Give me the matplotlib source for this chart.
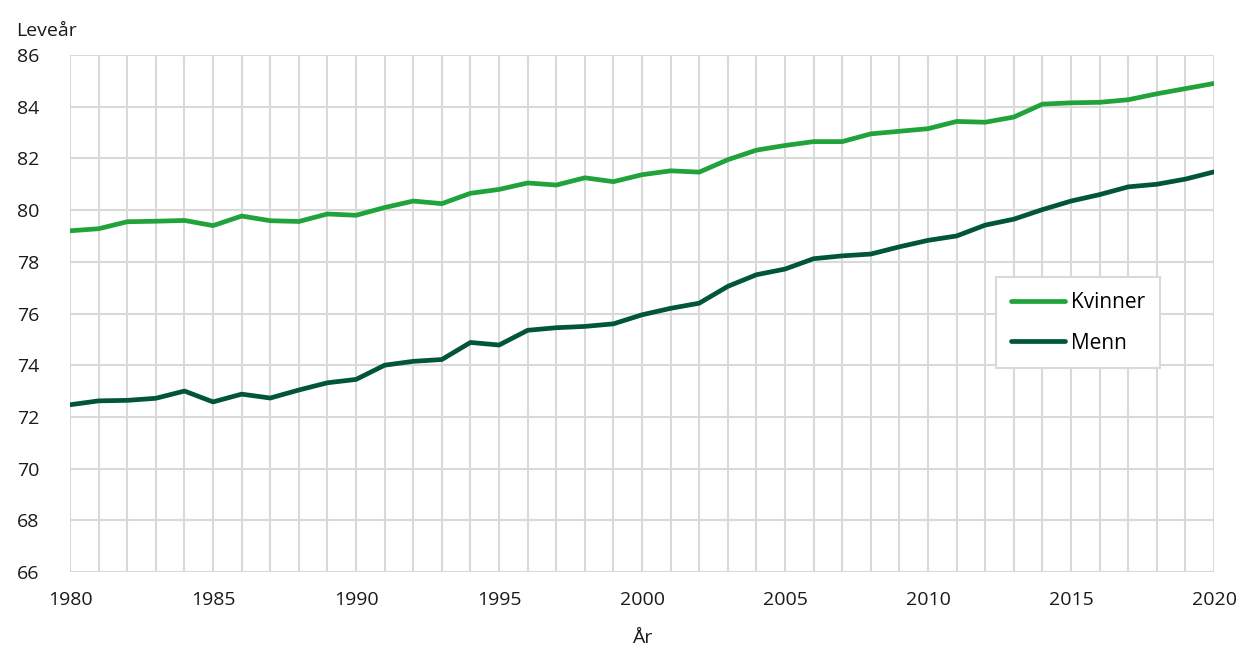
import matplotlib
matplotlib.use("Agg")
import matplotlib.pyplot as plt

years = list(range(1980, 2021))
kvinner = [79.2, 79.28, 79.55, 79.57, 79.6, 79.4, 79.77, 79.59, 79.56, 79.85,
           79.8, 80.1, 80.35, 80.25, 80.65, 80.8, 81.05, 80.97, 81.25, 81.1,
           81.37, 81.52, 81.47, 81.95, 82.32, 82.5, 82.65, 82.65, 82.95, 83.05,
           83.15, 83.43, 83.4, 83.6, 84.1, 84.15, 84.17, 84.27, 84.5, 84.7, 84.9]
menn = [72.47, 72.62, 72.64, 72.72, 73.0, 72.58, 72.88, 72.73, 73.04, 73.32,
        73.45, 74.0, 74.15, 74.22, 74.88, 74.78, 75.35, 75.45, 75.5, 75.6,
        75.95, 76.2, 76.4, 77.05, 77.5, 77.72, 78.12, 78.23, 78.3, 78.58,
        78.83, 79.0, 79.42, 79.65, 80.02, 80.35, 80.6, 80.9, 81.0, 81.2, 81.48]
yticks = list(range(66, 87, 2))
xticks = list(range(1980, 2021, 5))

plt.rcParams["font.family"] = ["Open Sans", "DejaVu Sans"]

fig = plt.figure(figsize=(12.42, 6.48), dpi=100)
ax = fig.add_axes([0.0564, 0.1173, 0.9211, 0.7978])

ax.plot(years, kvinner, color="#1fa33a", lw=3.4, label="Kvinner", solid_capstyle="round")
ax.plot(years, menn, color="#00553a", lw=3.4, label="Menn", solid_capstyle="round")

ax.set_xlim(1980, 2020)
ax.set_ylim(66, 86)
ax.set_xticks(xticks)
ax.set_xticks(years, minor=True)
ax.set_yticks(yticks)
ax.grid(True, which="both", axis="x", color="#d9d9d9", lw=1.5)
ax.grid(True, which="major", axis="y", color="#d9d9d9", lw=1.5)
ax.set_axisbelow(True)
for s in ax.spines.values():
    s.set_visible(False)
ax.tick_params(which="both", length=0, labelsize=14, colors="#1a1a1a")
ax.tick_params(axis="x", pad=14)
ax.tick_params(axis="y", pad=22)

ax.set_xlabel("År", fontsize=14, color="#1a1a1a", labelpad=14)
fig.text(0.013, 0.945, "Leveår", fontsize=14, color="#1a1a1a")

leg = ax.legend(loc="upper left", bbox_to_anchor=(0.8005, 0.59), fontsize=15,
                frameon=True, fancybox=False, handlelength=2.6, labelspacing=0.95,
                borderpad=0.7, handletextpad=0.3)
leg.get_frame().set_edgecolor("#d9d9d9")
leg.get_frame().set_linewidth(1.5)
leg.get_frame().set_alpha(1)

fig.savefig("out.png", dpi=100)
